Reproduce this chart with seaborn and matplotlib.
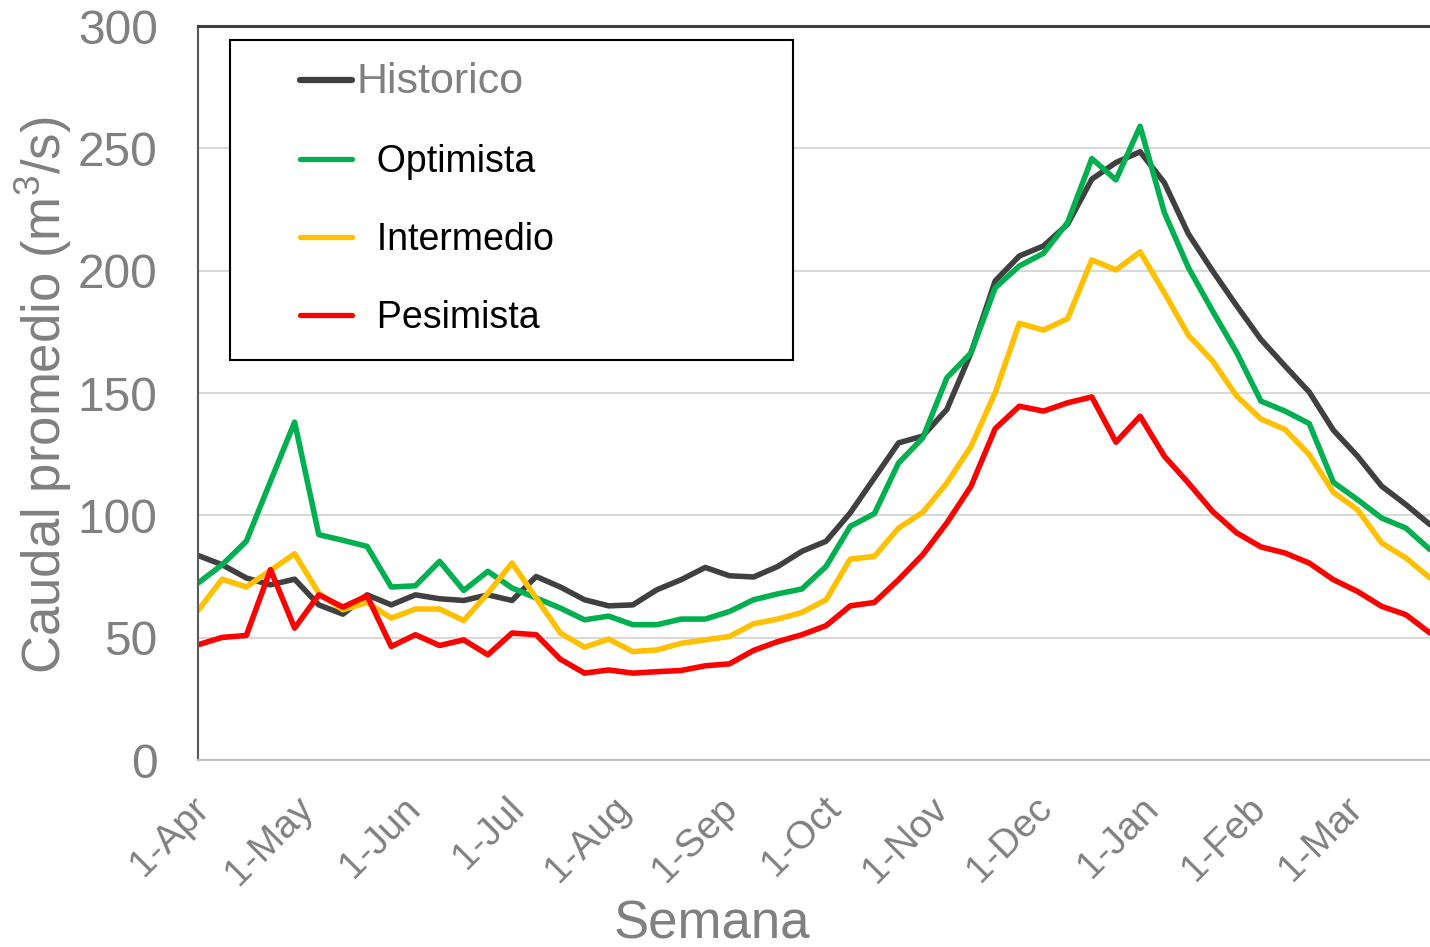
import numpy as np
import pandas as pd
import matplotlib
matplotlib.use("Agg")
import matplotlib.pyplot as plt
import matplotlib.transforms as mtransforms
import seaborn as sns
from matplotlib.lines import Line2D
from matplotlib.patches import Rectangle

# ---------------- data ----------------
series_names = ["Historico", "Optimista", "Intermedio", "Pesimista"]

historico = [83.6, 79.8, 74.4, 71.6, 73.9, 63.4, 59.6, 67.5, 63.4, 67.5, 65.9, 65.2, 67.5,
             65.2, 75.0, 70.7, 65.5, 63.0, 63.4, 69.6, 73.7, 78.7, 75.3, 74.8, 79.1, 85.3,
             89.4, 101.0, 115.3, 129.6, 132.4, 143.3, 166.4, 195.8, 206.0, 210.1, 219.0,
             237.4, 244.2, 248.6, 236.0, 215.0, 199.9, 185.6, 171.9, 161.0, 150.4, 134.8,
             124.2, 111.9, 104.4, 96.2]

optimista = [72.3, 79.8, 89.4, 113.9, 138.1, 92.1, 89.8, 87.3, 70.7, 71.2, 81.2, 69.3, 77.1,
             70.3, 66.2, 62.1, 57.3, 58.8, 55.3, 55.3, 57.6, 57.6, 60.7, 65.5, 67.9, 69.9,
             79.1, 95.5, 100.7, 121.4, 131.6, 156.2, 166.4, 193.0, 201.9, 207.1, 219.7,
             245.8, 237.1, 259.0, 223.8, 201.2, 183.5, 166.5, 146.7, 142.6, 137.5, 113.5,
             106.4, 98.9, 94.8, 86.0]

intermedio = [61.1, 73.9, 70.7, 77.5, 84.3, 68.2, 61.4, 64.4, 58.0, 61.7, 61.7, 57.0, 68.2,
              80.5, 66.2, 51.9, 46.1, 49.4, 44.3, 45.0, 47.7, 49.1, 50.5, 55.7, 57.6, 60.3,
              65.5, 82.1, 83.2, 94.8, 101.2, 113.2, 128.2, 150.1, 178.5, 175.7, 180.4,
              204.4, 200.3, 207.7, 191.0, 173.6, 163.1, 148.7, 139.4, 135.1, 124.8, 109.4,
              102.3, 88.7, 82.6, 74.4]

pesimista = [47.1, 50.1, 50.9, 77.8, 53.9, 67.5, 62.5, 67.1, 46.4, 51.2, 46.8, 49.1, 43.0,
             51.9, 51.2, 41.2, 35.5, 36.8, 35.5, 36.1, 36.6, 38.5, 39.3, 44.8, 48.4, 51.2,
             54.9, 63.0, 64.4, 73.7, 83.9, 96.9, 111.9, 135.4, 144.6, 142.6, 146.0, 148.4,
             129.9, 140.5, 124.2, 113.2, 101.6, 92.8, 87.1, 84.6, 80.5, 73.7, 68.9, 62.8,
             59.4, 51.9]

month_labels = ["1-Apr", "1-May", "1-Jun", "1-Jul", "1-Aug", "1-Sep",
                "1-Oct", "1-Nov", "1-Dec", "1-Jan", "1-Feb", "1-Mar"]
month_start_days = [0, 30, 61, 91, 122, 153, 183, 214, 244, 275, 306, 334]

y_ticks = [0, 50, 100, 150, 200, 250, 300]

# ---------------- style ----------------
colors = ["#404040", "#00B050", "#FFC000", "#FF0000"]
gray_text = "#808080"

sns.set_theme(style="white")
plt.rcParams["font.family"] = ["Liberation Sans", "DejaVu Sans"]
plt.rcParams["mathtext.fontset"] = "custom"
plt.rcParams["mathtext.rm"] = "Liberation Sans"
plt.rcParams["mathtext.it"] = "Liberation Sans:italic"
plt.rcParams["mathtext.bf"] = "Liberation Sans:bold"

W, H = 1430, 947
fig = plt.figure(figsize=(W / 100, H / 100), dpi=100)
ax = fig.add_axes([198 / W, 1 - 760 / H, 1232 / W, 734 / H])

n = len(historico)
weeks = np.arange(n)
df = pd.DataFrame({
    "Semana": np.tile(weeks, 4),
    "Caudal": np.concatenate([historico, optimista, intermedio, pesimista]),
    "Escenario": np.repeat(series_names, n),
})

sns.lineplot(data=df, x="Semana", y="Caudal", hue="Escenario",
             hue_order=series_names, palette=dict(zip(series_names, colors)),
             linewidth=4.0, legend=False, ax=ax)

ax.set_xlim(0, n - 1)
ax.set_ylim(0, 300)
ax.set_yticks(y_ticks)
ax.set_yticklabels([str(v) for v in y_ticks], fontsize=34.5, color=gray_text)
ax.set_xticks(np.array(month_start_days) / 7.0)
ax.set_xticklabels(month_labels, fontsize=28, color=gray_text, rotation=45,
                   ha="right", va="center", rotation_mode="anchor")
ax.tick_params(axis="y", length=0, pad=29)
ax.tick_params(axis="x", length=0, pad=31)
shift = mtransforms.ScaledTranslation(6 / 100, 0, fig.dpi_scale_trans)
for lbl in ax.get_xticklabels():
    lbl.set_transform(lbl.get_transform() + shift)

ax.yaxis.grid(True, color="#d9d9d9", linewidth=1.5)
ax.xaxis.grid(False)
ax.set_axisbelow(True)

ax.spines["right"].set_visible(False)
ax.spines["left"].set_color("#595959")
ax.spines["left"].set_linewidth(1.5)
ax.spines["top"].set_color("#404040")
ax.spines["top"].set_linewidth(2.2)
ax.spines["bottom"].set_color("#bfbfbf")
ax.spines["bottom"].set_linewidth(1.5)

ax.set_ylabel("Caudal promedio (m$^{3}$/s)", fontsize=38, color=gray_text)
ax.yaxis.set_label_coords(-0.101, 0.497)
ax.set_xlabel("Semana", fontsize=38, color=gray_text)
ax.xaxis.set_label_coords(0.417, -0.190)

# ---------------- legend ----------------
box = Rectangle((32 / 1232, (760 - 360) / 734), 563 / 1232, 320 / 734,
                transform=ax.transAxes, facecolor="white", edgecolor="black",
                linewidth=1.5, zorder=5)
ax.add_patch(box)

handles = []
for i, c in enumerate(colors):
    handles.append(Line2D([0], [0], color=c, linewidth=4.5 if i == 0 else 3.8,
                          solid_capstyle="round"))
labels = [series_names[0]] + ["  " + s for s in series_names[1:]]
leg = ax.legend(handles, labels, loc="upper left",
                bbox_to_anchor=((300 - 198) / 1232, (760 - 62) / 734),
                borderaxespad=0, borderpad=0, frameon=False, fontsize=27,
                handlelength=1.38, handletextpad=0.12, labelspacing=1.12)
leg.set_zorder(6)
for j, t in enumerate(leg.get_texts()):
    if j == 0:
        t.set_color(gray_text)
        t.set_fontsize(31)
    else:
        t.set_color("black")

fig.savefig("out.png", dpi=100)
